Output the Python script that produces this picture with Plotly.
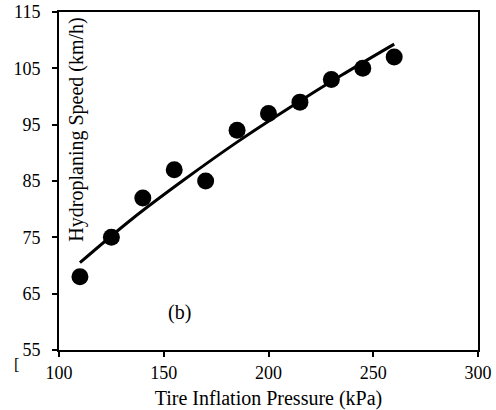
import plotly.graph_objects as go

# Measured data points
pressure_kpa = [110, 125, 140, 155, 170, 185, 200, 215, 230, 245, 260]
speed_kmh = [68, 75, 82, 87, 85, 94, 97, 99, 103, 105, 107]

# Trend curve values
trend_kpa = [110, 135, 160, 185, 210, 235, 260]
trend_kmh = [70.5, 78.3, 85.3, 91.9, 98.0, 103.8, 109.3]

x_ticks = [100, 150, 200, 250, 300]
y_ticks = [55, 65, 75, 85, 95, 105, 115]

FONT = "Liberation Serif, Times New Roman, serif"

fig = go.Figure()
fig.add_trace(go.Scatter(x=trend_kpa, y=trend_kmh, mode="lines",
                         line=dict(color="black", width=3, shape="spline"),
                         showlegend=False, hoverinfo="skip"))
fig.add_trace(go.Scatter(x=pressure_kpa, y=speed_kmh, mode="markers",
                         marker=dict(color="black", size=17),
                         showlegend=False))

axis_common = dict(showgrid=False, zeroline=False, showline=True,
                   linecolor="black", linewidth=2, mirror=True,
                   ticks="outside", ticklen=5, tickwidth=2, tickcolor="black",
                   automargin=False,
                   tickfont=dict(family=FONT, size=18, color="black"))

fig.update_xaxes(range=[100, 300], tickvals=x_ticks,
                 title=dict(text="Tire Inflation Pressure (kPa)",
                            font=dict(family=FONT, size=20, color="black"),
                            standoff=9),
                 **axis_common)
fig.update_yaxes(range=[55, 115], tickvals=y_ticks, ticklabelstandoff=8,
                 **axis_common)

fig.add_annotation(text="Hydroplaning Speed (km/h)", textangle=-90,
                   xref="paper", yref="paper", x=0.043, y=0.652,
                   showarrow=False, xanchor="center", yanchor="middle",
                   font=dict(family=FONT, size=20, color="black"))
fig.add_annotation(text="(b)", xref="x", yref="y", x=157.3, y=61.7,
                   showarrow=False,
                   font=dict(family=FONT, size=20, color="black"))
fig.add_annotation(text="[", xref="paper", yref="paper", x=-0.113, y=-0.075,
                   showarrow=False,
                   font=dict(family=FONT, size=16, color="black"))

fig.update_layout(width=496, height=410,
                  margin=dict(l=59, r=18, t=12, b=60),
                  paper_bgcolor="white", plot_bgcolor="white")

# remove the default page margin so the 496x410 figure fills the window exactly
fig.write_html("out.html",
               config={"displayModeBar": False},
               post_script="document.body.style.margin='0';"
                           "document.body.style.overflow='hidden';")
